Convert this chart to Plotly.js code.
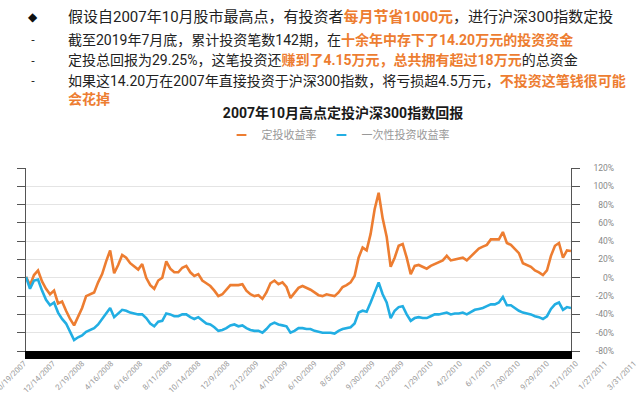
<!DOCTYPE html>
<html>
<head>
<meta charset="utf-8">
<script src="https://cdn.plot.ly/plotly-3.0.1.min.js"></script>
<style>html,body{margin:0;padding:0;background:#fff;}#chart{width:640px;height:398px;}</style>
</head>
<body>
<div id="chart"></div>
<script>
// ---- data ----
const seriesNames = ["定投收益率", "一次性投资收益率"];
const dingtouReturn = [1,-8,3,8,-4,-12,-18,-14,-28,-26,-36,-45,-52,-42,-33,-20,-18,-16,-5,4,
  18,30,5,14,25,22,16,12,9,15,0,-8,-12,-3,0,18,10,6,6,11,
  13,6,2,4,-3,-6,-9,-14,-20,-18,-13,-8,-8,-8,-7,-14,-18,-20,-19,-23,
  -16,-6,-3,-7,-5,-10,-22,-17,-11,-9,-11,-13,-16,-19,-20,-18,-19,-20,-16,-10,
  -8,-5,2,22,33,30,48,75,93,65,45,12,22,35,37,22,4,13,14,12,
  10,13,15,17,19,24,19,20,21,22,19,23,28,32,34,36,42,42,42,50,
  38,36,32,27,16,14,12,8,6,3,8,24,35,38,22,30,29.25];
const lumpSumReturn = [1,-12,-3,-2,-14,-24,-30,-27,-38,-45,-50,-60,-68,-65,-63,-59,-57,-55,-51,-45,
  -38,-33,-43,-39,-35,-36,-38,-39,-40,-40,-44,-50,-53,-48,-47,-39,-40,-42,-42,-40,
  -40,-43,-45,-43,-47,-50,-51,-54,-58,-57,-55,-52,-51,-53,-52,-55,-57,-58,-58,-60,
  -56,-51,-49,-51,-52,-53,-60,-58,-55,-55,-56,-56,-58,-59,-60,-60,-60,-61,-58,-56,
  -55,-54,-50,-38,-36,-37,-27,-16,-5,-18,-27,-44,-36,-32,-31,-40,-47,-44,-43,-44,
  -44,-42,-40,-40,-39,-38,-40,-39,-39,-38,-40,-37,-35,-34,-33,-31,-29,-29,-27,-21,
  -30,-30,-33,-36,-38,-39,-40,-42,-43,-45,-42,-34,-29,-27,-35,-32,-33];
const dateLabels = ["10/19/2007","12/14/2007","2/19/2008","4/16/2008","6/16/2008","8/11/2008",
  "10/14/2008","12/9/2008","2/12/2009","4/10/2009","6/10/2009","8/5/2009","9/30/2009",
  "12/3/2009","1/29/2010","4/2/2010","6/1/2010","7/30/2010","9/29/2010","12/1/2010",
  "1/27/2011","3/31/2011"];
const yTickValues = [-80,-60,-40,-20,0,20,40,60,80,100,120];
const yTickLabels = ["-80%","-60%","-40%","-20%","0%","20%","40%","60%","80%","100%","120%"];
const chartTitle = "2007年10月高点定投沪深300指数回报";
const noteLines = [
  "假设自2007年10月股市最高点，有投资者<b><span style='color:#ed7d31'>每月节省1000元</span></b>，进行沪深300指数定投",
  "截至2019年7月底，累计投资笔数142期，在<b><span style='color:#ed7d31'>十余年中存下了14.20万元的投资资金</span></b>",
  "定投总回报为29.25%，这笔投资还<b><span style='color:#ed7d31'>赚到了4.15万元，总共拥有超过18万元</span></b>的总资金",
  "如果这14.20万在2007年直接投资于沪深300指数，将亏损超4.5万元，<b><span style='color:#ed7d31'>不投资这笔钱很可能</span></b>",
  "<b><span style='color:#ed7d31'>会花掉</span></b>"
];
const noteBullets = ["◆","-","-","-"];

// ---- styles ----
const ORANGE = "#ed7d31";
const BLUE = "#22aee3";
const FONT = "Roboto, 'Noto Sans CJK SC', sans-serif";
const W = 640, H = 398, ML = 16, MR = 0, MT = 168, MB = 47;
const PLOT_L = 26, PLOT_R = 571;
const PW = W - ML - MR, PH = H - MT - MB;
const px2x = p => (p - ML) / PW;
const py2y = p => (H - MB - p) / PH;
// date-label axis: label i sits at 24 + 29.05*i px
const LBL0 = 24, LBLSTEP = 29.05;

const idx = dingtouReturn.map((_, i) => i);
const traces = [
  {x: idx, y: dingtouReturn, type: "scatter", mode: "lines", name: seriesNames[0],
   line: {color: ORANGE, width: 2.6}, showlegend: false, hoverinfo: "skip"},
  {x: idx, y: lumpSumReturn, type: "scatter", mode: "lines", name: seriesNames[1],
   line: {color: BLUE, width: 2.6}, showlegend: false, hoverinfo: "skip"},
  {x: [null], y: [null], type: "scatter", mode: "markers", name: seriesNames[0],
   marker: {symbol: "line-ew", size: 7, line: {width: 2.2, color: ORANGE}}},
  {x: [null], y: [null], type: "scatter", mode: "markers", name: seriesNames[1],
   marker: {symbol: "line-ew", size: 7, line: {width: 2.2, color: BLUE}}},
  {x: [null], y: [null], xaxis: "x2", yaxis: "y4", type: "scatter", mode: "markers",
   showlegend: false, hoverinfo: "skip"}
];

const rows = [17, 40, 60.5, 80.5, 99];
const annotations = [];
noteLines.forEach((t, i) => {
  annotations.push({text: t, xref: "paper", yref: "paper", x: px2x(66), y: py2y(rows[i]),
    xanchor: "left", yanchor: "middle", showarrow: false,
    font: {family: FONT, size: i === 0 ? 15 : 14, color: "#222"}});
});
noteBullets.forEach((b, i) => {
  annotations.push({text: b, xref: "paper", yref: "paper", x: px2x(33), y: py2y(rows[i]),
    xanchor: "center", yanchor: "middle", showarrow: false,
    font: {family: "DejaVu Sans", size: i === 0 ? 12 : 11, color: "#111"}});
});

const n = dingtouReturn.length;
const layout = {
  width: W, height: H,
  margin: {l: ML, r: MR, t: MT, b: MB, pad: 0},
  paper_bgcolor: "#fff", plot_bgcolor: "rgba(0,0,0,0)",
  font: {family: FONT},
  title: {text: "<b>" + chartTitle + "</b>", font: {family: FONT, size: 14, color: "#1a1a1a"},
    xref: "paper", x: px2x(343), xanchor: "center", yref: "container", y: 1 - 113 / H, yanchor: "middle"},
  showlegend: true,
  legend: {orientation: "h", xref: "paper", yref: "paper", x: px2x(338), xanchor: "center",
    y: py2y(135), yanchor: "middle", font: {family: FONT, size: 11, color: "#999"},
    bgcolor: "rgba(0,0,0,0)"},
  xaxis: {domain: [px2x(PLOT_L), px2x(PLOT_R)], range: [0, n - 1], showticklabels: false, ticks: "",
    showgrid: false, zeroline: false, showline: true, linecolor: "#000", linewidth: 8},
  yaxis: {range: [-80, 120], tickvals: yTickValues, showticklabels: false, ticks: "outside",
    ticklen: 8, tickcolor: "#555", tickwidth: 1, showline: true, linecolor: "#555", linewidth: 1.2,
    mirror: "ticks", gridcolor: "#e4e4e4", gridwidth: 1, zeroline: false},
  xaxis2: {domain: [0, 1], anchor: "y4",
    range: [(ML - LBL0) / LBLSTEP, (W - MR - LBL0) / LBLSTEP],
    tickvals: dateLabels.map((_, i) => i),
    ticktext: dateLabels, tickangle: -45, ticks: "outside", ticklen: 4, tickcolor: "rgba(0,0,0,0)",
    ticklabeloverflow: "allow",
    showgrid: false, zeroline: false, showline: false,
    tickfont: {family: FONT, size: 7.8, color: "#9a9a9a"}},
  yaxis4: {domain: [0, 1], anchor: "free", position: px2x(614), side: "left", range: [-80, 120],
    tickvals: yTickValues, ticktext: yTickLabels, ticks: "", showgrid: false, zeroline: false,
    showline: false, tickfont: {family: FONT, size: 8.5, color: "#888"}},
  annotations: annotations
};

Plotly.newPlot("chart", traces, layout, {staticPlot: true, displayModeBar: false});
</script>
</body>
</html>
